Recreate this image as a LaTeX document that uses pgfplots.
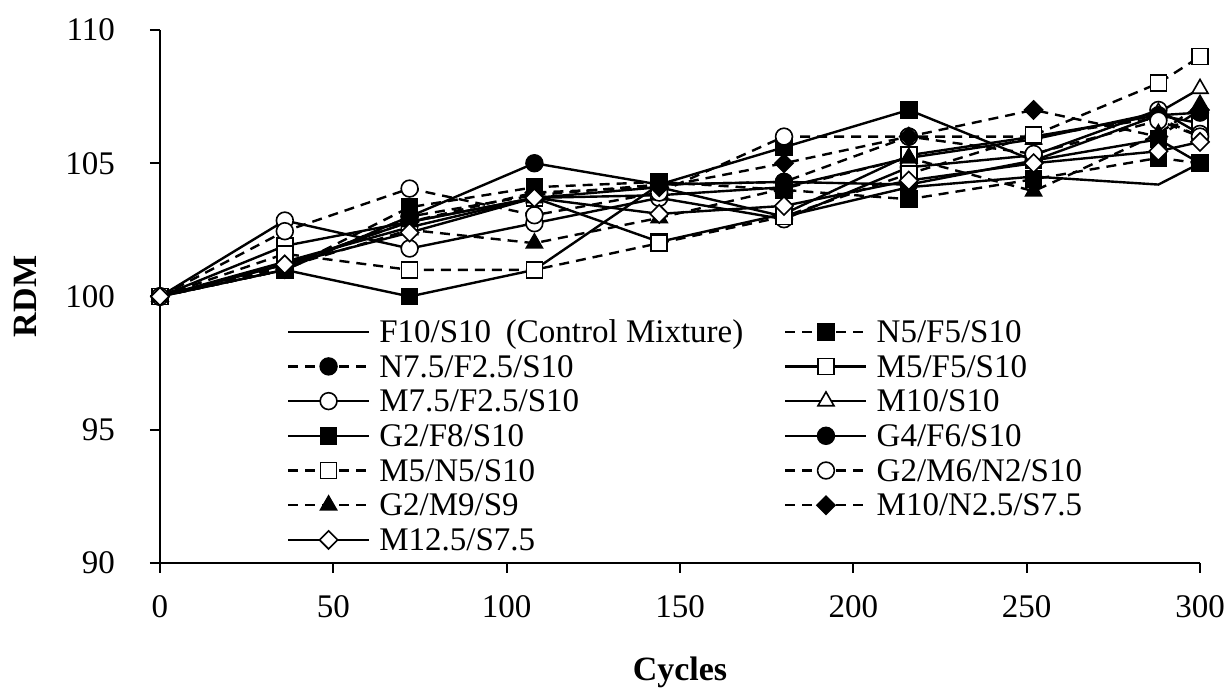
\documentclass[border=0pt]{standalone}
\usepackage{fontspec}
\setmainfont{Liberation Serif}
\usepackage{pgfplots}
\pgfplotsset{compat=1.18}
\begin{document}
\fontsize{16}{19}\selectfont
\begin{tikzpicture}[font=\fontsize{16}{19}\selectfont]
\useasboundingbox (-80pt,-63pt) rectangle (535.5pt,281.5pt);
\begin{axis}[
  at={(0,0)}, anchor=south west, scale only axis,
  width=520pt, height=266.5pt,
  xmin=0, xmax=300, ymin=90, ymax=110,
  xtick={0,50,...,300}, ytick={90,95,...,110},
  axis lines=left, axis line style={-, line width=1pt},
  tick align=outside, major tick length=5pt,
  tick style={line width=1pt, black},
  /pgf/number format/assume math mode=true,
  tick label style={font=\fontsize{16.5}{20}\selectfont},
  yticklabel style={xshift=-12pt},
  xticklabel style={yshift=-5.5pt},
  xlabel={\textbf{Cycles}}, ylabel={\textbf{RDM}},
  label style={font=\fontsize{17}{20}\selectfont},
  xlabel style={at={(axis description cs:0.5,-0.206)}, anchor=center},
  ylabel style={at={(axis description cs:-0.129,0.5)}, anchor=center, rotate=0},
  legend columns=2,
  legend cell align=left,
  legend style={at={(axis cs:36.6,99.33)}, anchor=north west, draw=none, fill=none,
    inner sep=0pt, outer sep=0pt,
    column sep=0pt, row sep=0pt, font=\fontsize{16.5}{20}\selectfont,
    nodes={inner sep=0pt, text height=14pt, text depth=3.35pt}},
  legend image code/.code={\draw[mark repeat=2,mark phase=2] plot coordinates {(0pt,0pt) (20.25pt,0pt) (40.5pt,0pt)};},
  every axis plot/.append style={black, line width=1.2pt},
]
% 1 F10/S10 control
\addplot[no markers] coordinates {(0,100) (36,101.3) (72,102.6) (108,103.7) (144,104.1) (180,103.0) (216,104.1) (252,104.5) (288,104.2) (300,105.0)};
\addlegendentry{\hspace*{4.5pt}\makebox[202.5pt][l]{F10/S10\hspace{0.45em}(Control Mixture)}}
% 2 N5/F5/S10
\addplot[dash pattern=on 5pt off 3.5pt, mark=square*, mark size=4pt, mark options={solid, fill=black, line width=0.8pt}] coordinates {(0,100) (36,101.0) (72,103.35) (108,104.1) (144,104.3) (180,104.0) (216,103.65) (252,104.4) (288,105.2) (300,105.0)};
\addlegendentry{\hspace*{4.5pt}N5/F5/S10}
% 3 N7.5/F2.5/S10
\addplot[dash pattern=on 5pt off 3.5pt, mark=*, mark size=4.2pt, mark options={solid, fill=black, line width=0.8pt}] coordinates {(0,100) (36,101.0) (72,103.0) (108,103.8) (144,104.2) (180,104.3) (216,106.0) (252,106.0) (288,106.7) (300,106.0)};
\addlegendentry{\hspace*{4.5pt}\makebox[202.5pt][l]{N7.5/F2.5/S10}}
% 4 M5/F5/S10
\addplot[mark=square*, mark size=4pt, mark options={solid, fill=white, line width=0.8pt}] coordinates {(0,100) (36,101.9) (72,102.8) (108,103.7) (144,102.05) (180,103.1) (216,105.3) (252,106.0) (288,106.8) (300,106.5)};
\addlegendentry{\hspace*{4.5pt}M5/F5/S10}
% 5 M7.5/F2.5/S10
\addplot[mark=*, mark size=4.2pt, mark options={solid, fill=white, line width=0.8pt}] coordinates {(0,100) (36,102.85) (72,101.8) (108,102.75) (144,103.7) (180,102.9) (216,104.85) (252,105.3) (288,107.0) (300,106.1)};
\addlegendentry{\hspace*{4.5pt}\makebox[202.5pt][l]{M7.5/F2.5/S10}}
% 6 M10/S10
\addplot[mark=triangle*, mark size=4.6pt, mark options={solid, fill=white, line width=0.8pt}] coordinates {(0,100) (36,101.2) (72,102.8) (108,103.7) (144,103.8) (180,104.1) (216,105.2) (252,105.9) (288,106.9) (300,107.8)};
\addlegendentry{\hspace*{4.5pt}M10/S10}
% 7 G2/F8/S10
\addplot[mark=square*, mark size=4pt, mark options={solid, fill=black, line width=0.8pt}] coordinates {(0,100) (36,101.0) (72,100.0) (108,101.0) (144,104.2) (180,105.6) (216,107.0) (252,105.1) (288,105.9) (300,105.0)};
\addlegendentry{\hspace*{4.5pt}\makebox[202.5pt][l]{G2/F8/S10}}
% 8 G4/F6/S10
\addplot[mark=*, mark size=4.2pt, mark options={solid, fill=black, line width=0.8pt}] coordinates {(0,100) (36,101.0) (72,103.0) (108,105.0) (144,104.2) (180,104.3) (216,104.2) (252,105.1) (288,106.8) (300,106.9)};
\addlegendentry{\hspace*{4.5pt}G4/F6/S10}
% 9 M5/N5/S10
\addplot[dash pattern=on 5pt off 3.5pt, mark=square*, mark size=4pt, mark options={solid, fill=white, line width=0.8pt}] coordinates {(0,100) (36,101.6) (72,101.0) (108,101.0) (144,102.0) (180,103.0) (216,104.6) (252,106.05) (288,108.0) (300,109.0)};
\addlegendentry{\hspace*{4.5pt}\makebox[202.5pt][l]{M5/N5/S10}}
% 10 G2/M6/N2/S10
\addplot[dash pattern=on 5pt off 3.5pt, mark=*, mark size=4.2pt, mark options={solid, fill=white, line width=0.8pt}] coordinates {(0,100) (36,102.45) (72,104.05) (108,103.05) (144,103.9) (180,106.0) (216,106.0) (252,105.35) (288,106.6) (300,106.0)};
\addlegendentry{\hspace*{4.5pt}G2/M6/N2/S10}
% 11 G2/M9/S9
\addplot[dash pattern=on 5pt off 3.5pt, mark=triangle*, mark size=4.6pt, mark options={solid, fill=black, line width=0.8pt}] coordinates {(0,100) (36,101.1) (72,102.5) (108,102.0) (144,102.95) (180,104.05) (216,105.2) (252,103.95) (288,106.1) (300,107.2)};
\addlegendentry{\hspace*{4.5pt}\makebox[202.5pt][l]{G2/M9/S9}}
% 12 M10/N2.5/S7.5
\addplot[dash pattern=on 5pt off 3.5pt, mark=square*, mark size=3.2pt, mark options={solid, rotate=45, fill=black, line width=0.8pt}] coordinates {(0,100) (36,101.2) (72,102.8) (108,103.9) (144,104.1) (180,105.0) (216,106.0) (252,107.0) (288,106.0) (300,107.0)};
\addlegendentry{\hspace*{4.5pt}M10/N2.5/S7.5}
% 13 M12.5/S7.5
\addplot[mark=square*, mark size=3.2pt, mark options={solid, rotate=45, fill=white, line width=0.8pt}] coordinates {(0,100) (36,101.2) (72,102.4) (108,103.7) (144,103.1) (180,103.4) (216,104.35) (252,105.0) (288,105.45) (300,105.8)};
\addlegendentry{\hspace*{4.5pt}\makebox[202.5pt][l]{M12.5/S7.5}}
\end{axis}
\end{tikzpicture}
\end{document}
